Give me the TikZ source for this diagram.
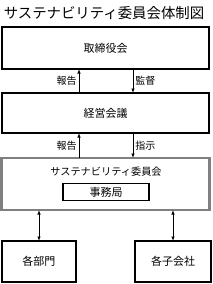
\documentclass[tikz,border=0pt]{standalone}
\usepackage{fontspec}
\setmainfont{Noto Sans CJK JP}
\usepackage{tikz}
\usetikzlibrary{arrows.meta, positioning, calc}
\definecolor{gris}{RGB}{128,128,128}

\begin{document}
\begin{tikzpicture}[x=1pt, y=-1pt, font=\fontsize{11}{12}\selectfont,
		boite/.style={draw=black, line width=1.6pt, inner sep=0pt, outer sep=0pt},
		fleche/.style={-{Latex[length=4.5pt,width=3.5pt]}, line width=0.8pt},
		double/.style={{Latex[length=4.5pt,width=3.5pt]}-{Latex[length=4.5pt,width=3.5pt]}, line width=0.8pt},
		etiq/.style={font=\fontsize{10}{11}\selectfont, inner sep=2pt}]
				\useasboundingbox (0,0) rectangle (212,284);
				
				\node[font=\fontsize{14.4}{16}\selectfont] (titre) at (104,13) {サステナビリティ委員会体制図};
				
				\node[boite, minimum width=207pt, minimum height=42pt] (conseil) at (105.5,48) {取締役会};
				\node[boite, minimum width=207pt, minimum height=40pt] (direction) at (105.5,113) {経営会議};
				
				% comite
				\node[boite, draw=gris, line width=2.2pt, minimum width=208pt, minimum height=52pt] (comite) at (105.5,184) {};
				\node[inner sep=0pt, font=\fontsize{10.2}{11}\selectfont] (comitetxt) at (106,172) {サステナビリティ委員会};
				\node[boite, line width=1.3pt, minimum width=86pt, minimum height=17pt] (secretariat) at (106,192) {事務局};
				
				\node[boite, minimum width=74pt, minimum height=41pt] (divisions) at (39,261.5) {各部門};
				\node[boite, minimum width=76pt, minimum height=41pt] (filiales) at (173,261.5) {各子会社};
				
				\draw[fleche] ([xshift=-26.5pt]direction.north) -- ([xshift=-26.5pt]conseil.south)
				node[midway, left, etiq] {報告};
				\draw[fleche] ([xshift=27.5pt]conseil.south) -- ([xshift=27.5pt]direction.north)
				node[midway, right, etiq] {監督};
				\draw[fleche] ([xshift=-26.5pt]comite.north) -- ([xshift=-26.5pt]direction.south)
				node[midway, left, etiq] {報告};
				\draw[fleche] ([xshift=27.5pt]direction.south) -- ([xshift=27.5pt]comite.north)
				node[midway, right, etiq] {指示};
				
				\draw[double] (divisions.north |- comite.south) -- (divisions.north);
				\draw[double] (filiales.north |- comite.south) -- (filiales.north);
			\end{tikzpicture}
\end{document}
